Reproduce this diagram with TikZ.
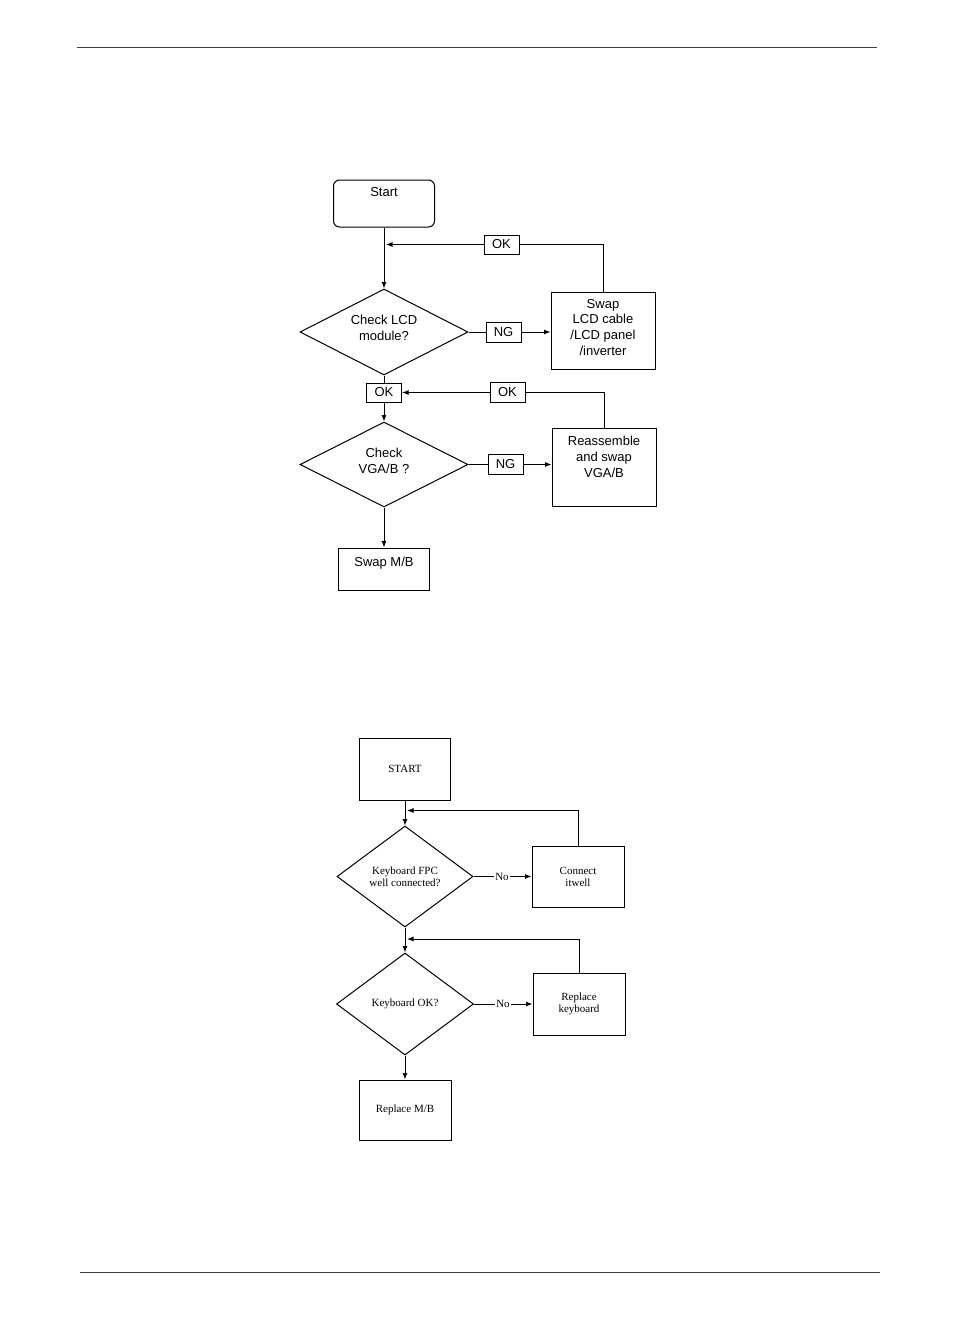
\documentclass[tikz,border=0pt]{standalone}
\usepackage{fontspec}
\setmainfont{Liberation Serif}
\newfontfamily\arialf{Liberation Sans}
\usetikzlibrary{shapes.geometric,arrows.meta}
\begin{document}
\begin{tikzpicture}[x=1pt,y=-1pt,
  every node/.style={inner sep=0pt},
  toptext/.style={font=\arialf\fontsize{13}{15.7}\selectfont,align=center},
  bottext/.style={font=\fontsize{11}{12}\selectfont,align=center},
  flowbox/.style={draw,line width=1pt},
  decision/.style={draw,diamond,line width=1pt},
  tagbox/.style={draw,line width=1pt,minimum width=35pt,minimum height=20pt,toptext},
  arrow/.style={line width=1pt,-{Latex[length=6.5pt,width=5pt]}},
  link/.style={line width=1pt},
  rule/.style={line width=1pt,black!75}]
\useasboundingbox (0,0) rectangle (954,1336);
% page rules
\draw[rule] (77,47) -- (877,47);
\draw[rule] (80,1272) -- (880,1272);

% ---------- top flowchart ----------
\node[flowbox,rounded corners=6pt,minimum width=101pt,minimum height=47pt,
  label={[toptext,anchor=north,yshift=-8pt]north:Start}] (start) at (384,203.5) {};
\node[decision,minimum width=168pt,minimum height=86pt,
  label={[toptext,anchor=center,yshift=4pt]center:Check LCD\\module?}] (d1) at (384,332) {};
\node[tagbox] (ng1) at (503.5,332) {NG};
\node[flowbox,minimum width=104pt,minimum height=77pt,
  label={[toptext,anchor=north,yshift=-7.5pt]north:Swap\\LCD cable\\/LCD panel\\/inverter}] (swap1) at (603,330.5) {};
\node[tagbox,minimum height=19pt] (ok1) at (501.5,244.5) {OK};
\node[tagbox,minimum height=19pt] (ok2) at (384,392.5) {OK};
\node[tagbox] (ok3) at (507.5,392.5) {OK};
\node[decision,minimum width=168pt,minimum height=85pt,
  label={[toptext,anchor=center,yshift=3.5pt]center:Check\\VGA/B ?}] (d2) at (384,464.5) {};
\node[tagbox] (ng2) at (505.5,464.5) {NG};
\node[flowbox,minimum width=104pt,minimum height=78pt,
  label={[toptext,anchor=north,yshift=-8.5pt]north:Reassemble\\and swap\\VGA/B}] (reas) at (604,467) {};
\node[flowbox,minimum width=91pt,minimum height=42pt,
  label={[toptext,anchor=north,yshift=-9.5pt]north:Swap M/B}] (swapmb) at (384,569) {};

\draw[arrow] (start) -- (d1);
\draw[link] (swap1.north) |- (ok1.east);
\draw[arrow] (ok1.west) -- ([xshift=2pt]ok1.west -| start.south);
\draw[link] (d1.east) -- (ng1.west);
\draw[arrow] (ng1.east) -- (ng1.east -| swap1.west);
\draw[link] (d1.south) -- (ok2.north);
\draw[arrow] (ok2.south) -- (d2.north);
\draw[link] (reas.north) |- (ok3.east);
\draw[arrow] (ok3.west) -- (ok2.east);
\draw[link] (d2.east) -- (ng2.west);
\draw[arrow] (ng2.east) -- (ng2.east -| reas.west);
\draw[arrow] (d2.south) -- (swapmb.north);

% ---------- bottom flowchart ----------
\node[flowbox,minimum width=91pt,minimum height=62pt,bottext] (startB) at (405,769) {START};
\node[decision,minimum width=136pt,minimum height=101pt,bottext] (d3) at (405,876.5) {Keyboard FPC\\well connected?};
\node[bottext,inner sep=1.5pt] (no1) at (502,876.5) {No};
\node[flowbox,minimum width=92pt,minimum height=61pt,bottext] (conn) at (578,876.5) {Connect\\itwell};
\node[decision,minimum width=137pt,minimum height=102pt,bottext] (d4) at (405,1004) {Keyboard OK?};
\node[bottext,inner sep=1.5pt] (no2) at (503,1004) {No};
\node[flowbox,minimum width=92pt,minimum height=62pt,bottext] (repkb) at (579,1004) {Replace\\keyboard};
\node[flowbox,minimum width=92pt,minimum height=60pt,bottext] (replmb) at (405,1110) {Replace M/B};

\path (startB.south) -- (d3.north) coordinate[pos=0.4] (fb1);
\path (d3.south) -- (d4.north) coordinate[pos=0.46] (fb2);

\draw[arrow] (startB) -- (d3);
\draw[arrow] (conn.north) |- ([xshift=2pt]fb1);
\draw[link] (d3.east) -- (no1.west);
\draw[arrow] (no1.east) -- (conn.west);
\draw[arrow] (d3) -- (d4);
\draw[arrow] (repkb.north) |- ([xshift=2pt]fb2);
\draw[link] (d4.east) -- (no2.west);
\draw[arrow] (no2.east) -- (repkb.west);
\draw[arrow] (d4) -- (replmb);
\end{tikzpicture}
\end{document}
